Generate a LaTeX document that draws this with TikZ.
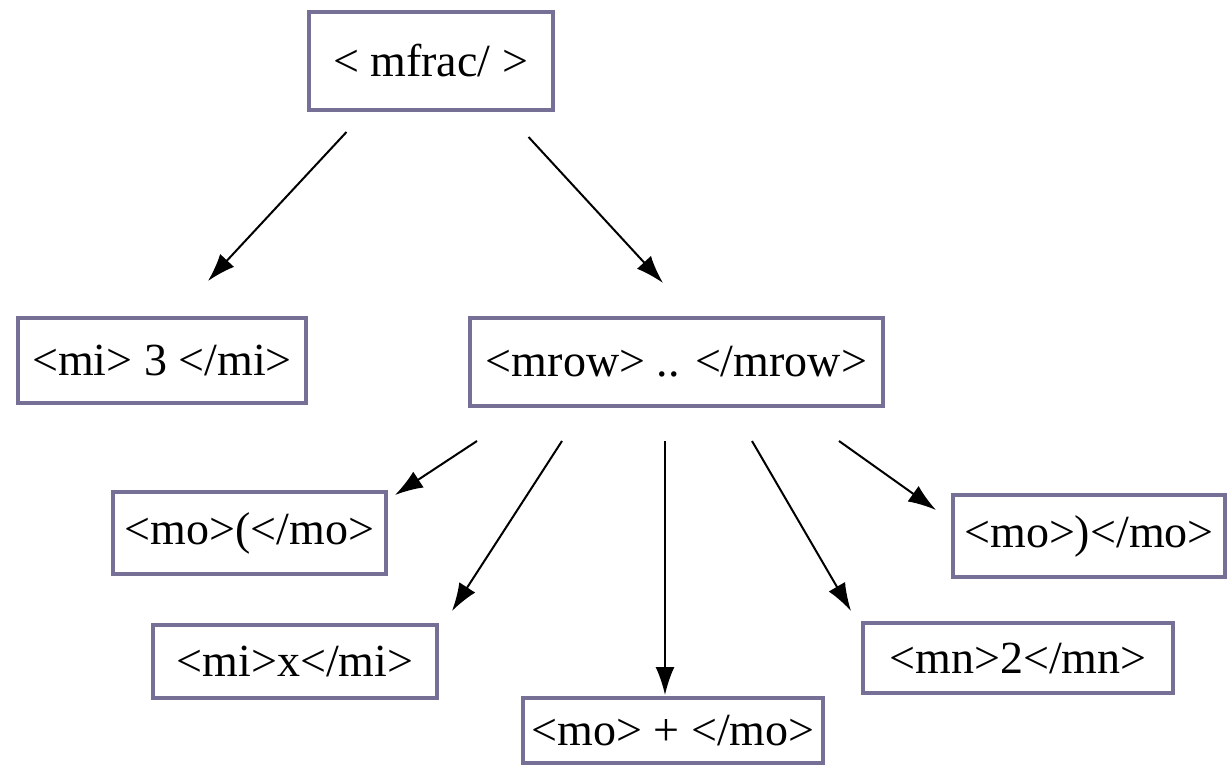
\documentclass[tikz,border=0pt]{standalone}
\usepackage{fontspec}
\setmainfont{Liberation Serif}
\usetikzlibrary{calc,arrows.meta}
\definecolor{boxline}{RGB}{118,112,150}
\tikzset{
  tagbox/.style={draw=boxline,line width=2pt,rectangle,inner sep=0pt,
    font=\fontsize{23}{27}\selectfont},
  arr/.style={line width=1pt,-{Latex[length=14pt,width=9.5pt]}}
}
\begin{document}
\begin{tikzpicture}[x=0.5pt,y=-0.5pt]
  \useasboundingbox[fill=white] (0,0) rectangle (1230,765);
  % Arrel
  \node[tagbox,minimum width=122pt,minimum height=49pt] (frac) at (430.5,61) {< mfrac/ >};
  % Fills
  \node[tagbox,minimum width=144pt,minimum height=42.5pt] (mi3) at (162,360.5) {<mi> 3 </mi>};
  \node[tagbox,minimum width=206.5pt,minimum height=44pt] (mrow) at (676.5,362) {<mrow> .. </mrow>};
  % Fills de mrow
  \node[tagbox,minimum width=136.5pt,minimum height=41pt] (moL) at (249.5,533) {<mo>(</mo>};
  \node[tagbox,minimum width=142pt,minimum height=36.5pt] (mix) at (295,661.5) {<mi>x</mi>};
  \node[tagbox,minimum width=150pt,minimum height=32.5pt] (moP) at (673,730.5) {<mo> + </mo>};
  \node[tagbox,minimum width=155pt,minimum height=35pt] (mn2) at (1018,658) {<mn>2</mn>};
  \node[tagbox,minimum width=136pt,minimum height=41pt] (moR) at (1089,536) {<mo>)</mo>};
  % Fletxes
  \draw[arr] ($(frac.south west)+(40,20)$) -- ($(mi3.north)+(46,-35)$);
  \draw[arr] ($(frac.south east)+(-26,25)$) -- ($(mrow.north)+(-13.5,-33)$);
  \draw[arr] ($(mrow.south west)+(9,33)$) -- ($(moL.north east)+(7,5)$);
  \draw[arr] ($(mrow.south west)+(94,33)$) -- ($(mix.north east)+(13,-12)$);
  \draw[arr] ($(mrow.south)+(-11.5,33)$) -- ($(moP.north)+(-8,-1)$);
  \draw[arr] ($(mrow.south)+(75.5,33)$) -- ($(mn2.north west)+(-10,-10)$);
  \draw[arr] ($(mrow.south east)+(-46,33)$) -- ($(moR.north west)+(-15,17)$);
\end{tikzpicture}
\end{document}
